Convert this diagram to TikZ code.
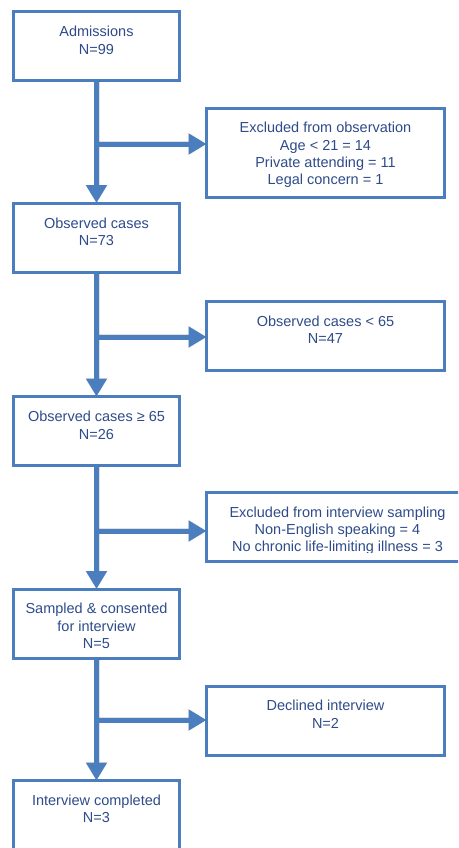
\documentclass[tikz,border=0pt]{standalone}
\usepackage{fontspec}
\setmainfont{Liberation Sans}
\usetikzlibrary{arrows.meta}
\definecolor{boxc}{HTML}{4A7EBF}
\definecolor{txtc}{HTML}{2E4C8A}
\tikzset{
  box/.style={draw=boxc, line width=3pt, inner sep=0pt, outer sep=0pt, fill=white},
  lbox/.style={box, minimum width=166pt, minimum height=69pt},
  rbox/.style={box, minimum width=238pt, minimum height=69pt},
  txt/.style={text=txtc, align=center, inner sep=0pt, anchor=north,
    font=\fontsize{14.5}{17.3}\selectfont},
  conn/.style={draw=boxc, line width=5pt, -{Triangle[length=18pt,width=20pt]}},
  shad/.style={draw=black, opacity=0.12, line width=6pt, -{Triangle[length=18pt,width=21pt]}}
}
\begin{document}
\begin{tikzpicture}[x=1pt,y=-1pt]
\useasboundingbox (0,0) rectangle (458,848);
\clip (0,0) rectangle (458,848);
% boxes
\node[lbox] (b1) at (96.5,46) {};
\node[rbox, minimum height=89pt] (e1) at (325.5,153) {};
\node[lbox] (b2) at (96.5,237.5) {};
\node[rbox] (e2) at (325.5,336) {};
\node[lbox] (b3) at (96.5,431) {};
\node[rbox, minimum width=262pt] (e3) at (337.5,527) {};
\node[lbox] (b4) at (96.5,623.5) {};
\node[rbox] (e4) at (325.5,720.5) {};
\node[lbox] (b5) at (96.5,815) {};
% junctions
\coordinate (j1) at (97,144);
\coordinate (j2) at (97,337);
\coordinate (j3) at (97,531);
\coordinate (j4) at (97,720);
% shadows of connectors
\begin{scope}[shift={(1.5,1.5)}]
\draw[shad] (b1.south) -- (b2.north);
\draw[shad] (j1) -- (j1 -| e1.west);
\draw[shad] (b2.south) -- (b3.north);
\draw[shad] (j2) -- (j2 -| e2.west);
\draw[shad] (b3.south) -- (b4.north);
\draw[shad] (j3) -- (j3 -| e3.west);
\draw[shad] (b4.south) -- (b5.north);
\draw[shad] (j4) -- (j4 -| e4.west);
\end{scope}
% connectors
\draw[conn] (b1.south) -- (b2.north);
\draw[conn] (j1) -- (j1 -| e1.west);
\draw[conn] (b2.south) -- (b3.north);
\draw[conn] (j2) -- (j2 -| e2.west);
\draw[conn] (b3.south) -- (b4.north);
\draw[conn] (j3) -- (j3 -| e3.west);
\draw[conn] (b4.south) -- (b5.north);
\draw[conn] (j4) -- (j4 -| e4.west);
% texts
\node[txt] (t1) at ([yshift=-14.5pt]b1.north) {Admissions\\N=99};
\node[txt] (te1) at ([yshift=-13.5pt]e1.north) {Excluded from observation\\Age < 21 = 14\\Private attending = 11\\Legal concern = 1};
\node[txt] (t2) at ([yshift=-14.5pt]b2.north) {Observed cases\\N=73};
\node[txt] (te2) at ([yshift=-14pt]e2.north) {Observed cases < 65\\N=47};
\node[txt] (t3) at ([yshift=-14.5pt]b3.north) {Observed cases ≥ 65\\N=26};
\begin{scope}
\clip (206,480) rectangle (458,552.2);
\node[txt] (te3) at ([yshift=-14pt]e3.north) {Excluded from interview sampling\\Non-English speaking = 4\\No chronic life-limiting illness = 3};
\end{scope}
\node[txt] (t4) at ([yshift=-14pt]b4.north) {Sampled \& consented\\for interview\\N=5};
\node[txt] (te4) at ([yshift=-14pt]e4.north) {Declined interview\\N=2};
\node[txt] (t5) at ([yshift=-14pt]b5.north) {Interview completed\\N=3};
\end{tikzpicture}
\end{document}
